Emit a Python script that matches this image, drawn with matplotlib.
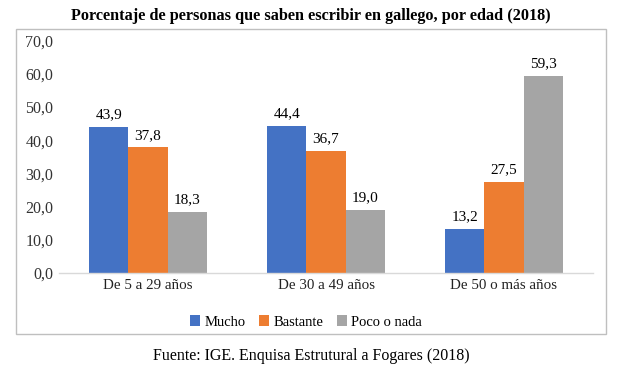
import matplotlib
matplotlib.use("Agg")
import matplotlib.pyplot as plt
from matplotlib.patches import Rectangle
import numpy as np

categories = ["De 5 a 29 años", "De 30 a 49 años", "De 50 o más años"]
series_names = ["Mucho", "Bastante", "Poco o nada"]
mucho = [43.9, 44.4, 13.2]
bastante = [37.8, 36.7, 27.5]
poco = [18.3, 19.0, 59.3]
yticks = [0, 10, 20, 30, 40, 50, 60, 70]
colors = ["#4472C4", "#ED7D31", "#A5A5A5"]

plt.rcParams['font.family'] = ['Liberation Serif', 'DejaVu Serif']

W, H = 623, 390
fig = plt.figure(figsize=(W / 100, H / 100), dpi=100)

# chart border
fig.patches.append(Rectangle((16 / W, 1 - 334 / H), (606 - 16) / W, (334 - 29) / H,
                             transform=fig.transFigure, fill=False,
                             edgecolor="#BFBFBF", linewidth=1.0))

ax = fig.add_axes([59 / W, 1 - 273 / H, (593 - 59) / W, (273 - 40.5) / H])
x = np.arange(len(categories))
bw = 0.221
all_series = [mucho, bastante, poco]
for i, (vals, name, c) in enumerate(zip(all_series, series_names, colors)):
    pos = x + (i - 1) * bw
    bars = ax.bar(pos, vals, width=bw, color=c, label=name)
    for p, v in zip(pos, vals):
        ax.annotate(f"{v:.1f}".replace(".", ","), (p, v), xytext=(0, 4),
                    textcoords="offset points", ha="center", va="bottom",
                    fontsize=11, color="#000000")

ax.set_xlim(-0.5, 2.5)
ax.set_ylim(0, 70)
ax.set_yticks(yticks)
ax.set_yticklabels([f"{t:.1f}".replace(".", ",") for t in yticks], fontsize=11.5, color="#333333")
ax.set_xticks(x)
ax.set_xticklabels(categories, fontsize=10.8, color="#222222")
ax.tick_params(axis="both", length=0)
ax.tick_params(axis="y", pad=4)
ax.tick_params(axis="x", pad=4)
for s in ["top", "right", "left"]:
    ax.spines[s].set_visible(False)
ax.spines["bottom"].set_color("#D9D9D9")
ax.spines["bottom"].set_linewidth(1.0)
ax.patch.set_alpha(0)

fig.text(310.5 / W, 1 - 16 / H, "Porcentaje de personas que saben escribir en gallego, por edad (2018)",
         ha="center", va="center", fontsize=11.7, fontweight="bold")

leg = fig.legend(loc="center", bbox_to_anchor=(306 / W, 1 - 322 / H), ncol=3, frameon=False,
                 fontsize=10.5, handlelength=0.7, handleheight=0.7, handletextpad=0.3,
                 columnspacing=0.9)

fig.text(311 / W, 1 - 356 / H, "Fuente: IGE. Enquisa Estrutural a Fogares (2018)",
         ha="center", va="center", fontsize=11.5)

fig.savefig("out.png", dpi=100)
